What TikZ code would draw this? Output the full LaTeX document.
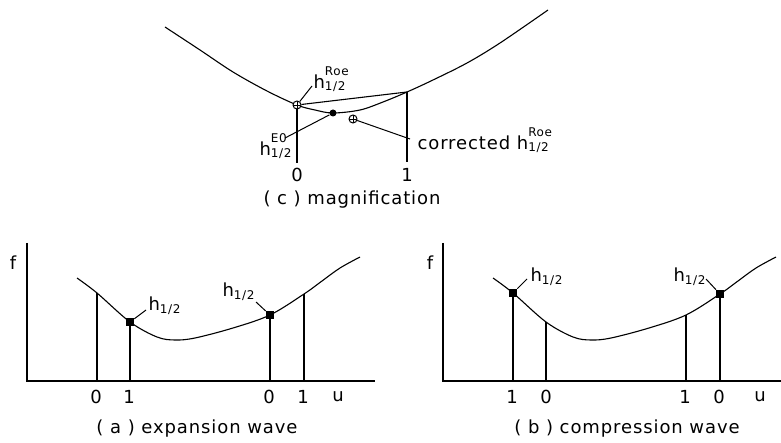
\documentclass[tikz,border=0pt]{standalone}
\usepackage{fontspec}
\setmainfont{DejaVu Sans}[LetterSpace=5]
\usepackage{tikz}
\usetikzlibrary{positioning}

\newcommand{\subfont}{\fontsize{12}{12}\selectfont}
\newcommand{\hhalf}{h\raisebox{-3pt}{\subfont 1/2}}
\newcommand{\hhalfsup}[1]{h\rlap{\raisebox{13pt}{\subfont #1}}\raisebox{-2pt}{\subfont 1/2}}

\begin{document}
\begin{tikzpicture}[
  x=1pt, y=-1pt,
  font=\fontsize{18}{20}\selectfont,
  line width=1.1pt,
  axis/.style={line width=1.2pt},
  stem/.style={line width=1.2pt},
  lead/.style={line width=1pt},
  sqpt/.style={rectangle, fill=black, minimum size=7.5pt, inner sep=0pt},
  dotpt/.style={circle, fill=black, minimum size=7pt, inner sep=0pt},
  crosspt/.style={circle, draw, line width=1pt, fill=white,
    minimum size=8pt, inner sep=0pt,
    path picture={\draw[line width=0.8pt]
      (path picture bounding box.north) -- (path picture bounding box.south)
      (path picture bounding box.west) -- (path picture bounding box.east);}},
  lab/.style={inner sep=0pt},
  num/.style={inner sep=0pt},
  captxt/.style={inner sep=0pt}
]
\useasboundingbox (0,0) rectangle (781,443);

% ---- (c) magnification ----
\draw plot[smooth, tension=0.55] coordinates {(165,27) (200,50) (233,72)
  (267,91) (297,105) (315,110) (333,113) (360,110) (383,102) (407,92)
  (433,80) (467,63) (500,43) (548,10)};

\coordinate (c1top) at (407,92);
\coordinate (c0foot) at (297,163);
\coordinate (c1foot) at (407,162);
\node[crosspt] (roe) at (297,105) {};
\node[dotpt] (eo) at (333,113) {};
\node[crosspt] (corr) at (353,119) {};

\draw[stem] (roe) -- (c0foot);
\draw[stem] (c1top) -- (c1foot);
\draw (roe) -- (c1top);

\node[num] (c0num) at (297,175) {0};
\node[num] (c1num) at (407,175) {1};
\node[captxt] (ccap) at (352,200) {( c ) magnification};

\node[lab, anchor=base west] (roelab) at (313,89) {\hhalfsup{Roe}};
\coordinate (roeend) at (312,86);
\draw[lead] (roe) -- (roeend);

\node[lab, anchor=base east] (eolab) at (292,156) {\hhalfsup{E0}};
\coordinate (eoend) at (285,138);
\draw[lead] (eo) -- (eoend);

\node[lab, anchor=base west] (corrlab) at (417,150) {corrected \hhalfsup{Roe}};
\coordinate (corrend) at (410,139);
\draw[lead] (corr) -- (corrend);

% ---- (a) expansion wave ----
\coordinate (atop) at (27,243);
\coordinate (aorig) at (27,381);
\coordinate (aend) at (375,381);
\draw[axis] (atop) -- (aorig) -- (aend);
\node (af) at (13,263) {f};
\node (au) at (338,397) {u};

\draw plot[smooth, tension=0.55] coordinates {(77,278) (97,293) (130,322)
  (157,337) (175,340) (195,338) (233,328) (270,315) (304,294) (322,281)
  (340,268) (360,257)};

\node[sqpt] (ah1) at (130,322) {};
\node[sqpt] (ah0) at (270,315) {};
\coordinate (a0top) at (97,293);
\coordinate (a3top) at (304,294);
\coordinate (a0f) at (97,381);
\coordinate (a1f) at (130,381);
\coordinate (a2f) at (270,381);
\coordinate (a3f) at (304,381);
\draw[stem] (a0top) -- (a0f);
\draw[stem] (ah1) -- (a1f);
\draw[stem] (ah0) -- (a2f);
\draw[stem] (a3top) -- (a3f);

\node[num] (a0num) at (96,397) {0};
\node[num] (a1num) at (129,397) {1};
\node[num] (a2num) at (269,397) {0};
\node[num] (a3num) at (303,397) {1};

\node[lab, anchor=base west] (ah1lab) at (148,310) {\hhalf};
\coordinate (ah1end) at (146,310);
\draw[lead] (ah1) -- (ah1end);
\node[lab, anchor=base west] (ah0lab) at (222,297) {\hhalf};
\coordinate (ah0end) at (256,302);
\draw[lead] (ah0) -- (ah0end);

\node[captxt] (acap) at (197,429) {( a ) expansion wave};

% ---- (b) compression wave ----
\coordinate (btop) at (443,243);
\coordinate (borig) at (443,381);
\coordinate (bend) at (781,381);
\draw[axis] (btop) -- (borig) -- (bend);
\node (bf) at (430,263) {f};
\node (bu) at (760,397) {u};

\draw plot[smooth, tension=0.55] coordinates {(493,278) (513,293) (546,322)
  (573,337) (591,340) (611,338) (649,328) (686,315) (720,294) (738,281)
  (756,268) (776,257)};

\node[sqpt] (bh1) at (513,293) {};
\node[sqpt] (bh0) at (720,294) {};
\coordinate (b1top) at (546,322);
\coordinate (b2top) at (686,315);
\coordinate (b0f) at (513,381);
\coordinate (b1f) at (546,381);
\coordinate (b2f) at (686,381);
\coordinate (b3f) at (720,381);
\draw[stem] (bh1) -- (b0f);
\draw[stem] (b1top) -- (b1f);
\draw[stem] (b2top) -- (b2f);
\draw[stem] (bh0) -- (b3f);

\node[num] (b0num) at (512,397) {1};
\node[num] (b1num) at (546,397) {0};
\node[num] (b2num) at (685,397) {1};
\node[num] (b3num) at (719,397) {0};

\node[lab, anchor=base west] (bh1lab) at (530,282) {\hhalf};
\coordinate (bh1end) at (527,279);
\draw[lead] (bh1) -- (bh1end);
\node[lab, anchor=base west] (bh0lab) at (673,282) {\hhalf};
\coordinate (bh0end) at (706,279);
\draw[lead] (bh0) -- (bh0end);

\node[captxt] (bcap) at (627,429) {( b ) compression wave};

\end{tikzpicture}
\end{document}
